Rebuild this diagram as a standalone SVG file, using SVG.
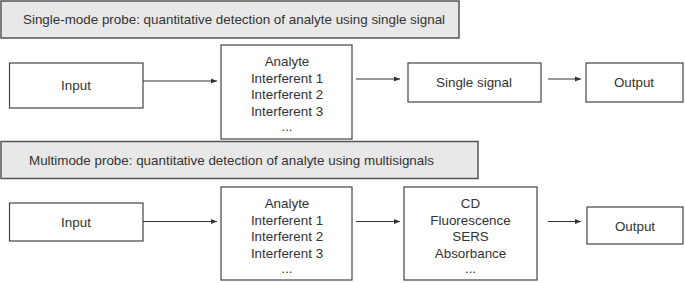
<svg xmlns="http://www.w3.org/2000/svg" width="685" height="283" viewBox="0 0 685 283">
<style>
.box{fill:#fff;stroke:#444;stroke-width:1.2}
.banner{fill:#e8e8e8;stroke:#555;stroke-width:1.5}
text{font-family:"Liberation Sans",Arial,sans-serif;font-size:13.4px;fill:#333;text-anchor:middle}
.bt{text-anchor:start}
.conn line{stroke:#333;stroke-width:1.1;marker-end:url(#ah)}
</style>
<defs>
<marker id="ah" markerWidth="7" markerHeight="6" refX="6" refY="3" orient="auto" markerUnits="userSpaceOnUse">
<path d="M0,0.5 L6,3 L0,5.5 z" fill="#333"/>
</marker>
</defs>
<rect width="685" height="283" fill="#fff"/>
<g id="banner1"><rect class="banner" x="1" y="1" width="458" height="37"/><text class="bt" x="23" y="23.5">Single-mode probe: quantitative detection of analyte using single signal</text></g>
<g id="input1"><rect class="box" x="9.5" y="63" width="133.5" height="45"/><text x="76" y="90">Input</text></g>
<g id="sample1"><rect class="box" x="221" y="45" width="131" height="94"/>
<text x="287" y="66">Analyte</text><text x="287" y="82.5">Interferent 1</text><text x="287" y="99">Interferent 2</text><text x="287" y="115.5">Interferent 3</text><text x="287" y="131">...</text></g>
<g id="signal1"><rect class="box" x="408" y="63" width="133" height="39"/><text x="474" y="87">Single signal</text></g>
<g id="output1"><rect class="box" x="586" y="63" width="97" height="39"/><text x="634" y="87">Output</text></g>
<g id="banner2"><rect class="banner" x="1" y="141.5" width="477" height="37"/><text class="bt" x="29" y="164.5">Multimode probe: quantitative detection of analyte using multisignals</text></g>
<g id="input2"><rect class="box" x="9.5" y="203" width="133.5" height="38"/><text x="76" y="226.5">Input</text></g>
<g id="sample2"><rect class="box" x="221" y="187" width="131" height="93"/>
<text x="287" y="208">Analyte</text><text x="287" y="224.5">Interferent 1</text><text x="287" y="241">Interferent 2</text><text x="287" y="257.5">Interferent 3</text><text x="287" y="273">...</text></g>
<g id="signals2"><rect class="box" x="404" y="187" width="133" height="93"/>
<text x="470.5" y="208">CD</text><text x="470.5" y="224.5">Fluorescence</text><text x="470.5" y="241">SERS</text><text x="470.5" y="257.5">Absorbance</text><text x="470.5" y="273">...</text></g>
<g id="output2"><rect class="box" x="587" y="207" width="96" height="37"/><text x="635" y="230.5">Output</text></g>
<g class="conn" id="connectors">
<line x1="143" y1="81" x2="217" y2="81"/>
<line x1="356" y1="79" x2="400" y2="79"/>
<line x1="548" y1="79" x2="581" y2="79"/>
<line x1="143" y1="221.5" x2="217" y2="221.5"/>
<line x1="356" y1="221.5" x2="400" y2="221.5"/>
<line x1="548" y1="221.5" x2="581" y2="221.5"/>
</g>
</svg>
